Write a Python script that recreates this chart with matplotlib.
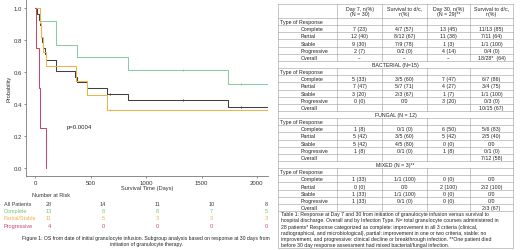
import matplotlib
matplotlib.use("Agg")
import matplotlib.pyplot as plt
import numpy as np

plt.rcParams['font.family'] = ['Liberation Sans', 'DejaVu Sans']

# Kaplan-Meier steps (days, survival after step)
all_t = [0, 15, 30, 40, 48, 55, 62, 70, 85, 92, 184, 190, 355, 372, 468, 645, 834, 1738, 2100]
all_s = [1.0, 0.964, 0.929, 0.893, 0.857, 0.821, 0.786, 0.75, 0.714, 0.679, 0.643, 0.607,
         0.571, 0.536, 0.5, 0.464, 0.425, 0.383, 0.383]
comp_t = [0, 42, 184, 372, 834, 1738, 2100]
comp_s = [1.0, 0.923, 0.769, 0.692, 0.615, 0.527, 0.527]
ps_t = [0, 42, 55, 70, 92, 365, 464, 645, 2100]
ps_s = [1.0, 0.909, 0.818, 0.727, 0.636, 0.545, 0.455, 0.364, 0.364]
prog_t = [0, 8, 35, 42, 94]
prog_s = [1.0, 0.75, 0.5, 0.25, 0.0]

# censor marks
all_cens_t = [675, 1331, 1855]
all_cens_s = [0.464, 0.425, 0.383]
comp_cens_t = [1331, 1855]
comp_cens_s = [0.615, 0.527]
ps_cens_t = [675]
ps_cens_s = [0.364]

p_text = "p=0.0004"

# number at risk
risk_times = [0, 500, 1000, 1500, 2000]
risk_groups = ["All Patients", "Complete", "Partial/Stable", "Progressive"]
risk_all = [28, 14, 11, 10, 8]
risk_comp = [13, 8, 8, 7, 5]
risk_ps = [11, 5, 3, 3, 3]
risk_prog = [4, 0, 0, 0, 0]

fig_caption = ("Figure 1: OS from date of initial granulocyte infusion. Subgroup analysis based on response at 30 days from\n"
               "initiation of granulocyte therapy.")

# table contents
tab_header = ["", "Day 7, n(%)\n(N = 30)", "Survival to d/c,\nn(%)", "Day 30, n(%)\n(N = 29)**", "Survival to d/c,\nn(%)"]
resp_types = ["Complete", "Partial", "Stable", "Progressive", "Overall"]
overall_vals = [["7 (23)", "4/7 (57)", "13 (45)", "11/13 (85)"],
                ["12 (40)", "8/12 (67)", "11 (38)", "7/11 (64)"],
                ["9 (30)", "7/9 (78)", "1 (3)", "1/1 (100)"],
                ["2 (7)", "0/2 (0)", "4 (14)", "0/4 (0)"],
                ["--", "--", "--", "18/28*  (64)"]]
bact_vals = [["5 (33)", "3/5 (60)", "7 (47)", "6/7 (86)"],
             ["7 (47)", "5/7 (71)", "4 (27)", "3/4 (75)"],
             ["3 (20)", "2/3 (67)", "1 (7)", "1/1 (100)"],
             ["0 (0)", "0/0", "3 (20)", "0/3 (0)"],
             ["", "", "", "10/15 (67)"]]
fung_vals = [["1 (8)", "0/1 (0)", "6 (50)", "5/6 (83)"],
             ["5 (42)", "3/5 (60)", "5 (42)", "2/5 (40)"],
             ["5 (42)", "4/5 (80)", "0 (0)", "0/0"],
             ["1 (8)", "0/1 (0)", "1 (8)", "0/1 (0)"],
             ["", "", "", "7/12 (58)"]]
mixed_vals = [["1 (33)", "1/1 (100)", "0 (0)", "0/0"],
              ["0 (0)", "0/0", "2 (100)", "2/2 (100)"],
              ["1 (33)", "1/1 (100)", "0 (0)", "0/0"],
              ["1 (33)", "0/1 (0)", "0 (0)", "0/0"],
              ["", "", "", "2/3 (67)"]]
sections = [(None, overall_vals), ("BACTERIAL (N=15)", bact_vals),
            ("FUNGAL (N = 12)", fung_vals), ("MIXED (N = 3)**", mixed_vals)]
tab_caption = ("Table 1: Response at Day 7 and 30 from initiation of granulocyte infusion versus survival to\n"
               "hospital discharge. Overall and by Infection Type. N= total granulocyte courses administered in\n"
               "28 patients* Response categorized as complete: improvement in all 3 criteria (clinical,\n"
               "radiographical, and microbiological), partial: improvement in one or two criteria, stable: no\n"
               "improvement, and progressive: clinical decline or breakthrough infection. **One patient died\n"
               "before 30 day response assessment had mixed bacterial/fungal infection.")

c_all = '#404040'
c_comp = '#8ccaa6'
c_ps = '#f0b24a'
c_prog = '#c8486a'
txt_comp = '#72c470'
W, H = 520, 251

fig = plt.figure(figsize=(5.2, 2.51), dpi=100)
fig.patch.set_facecolor('white')

# survival plot
ax = fig.add_axes([26 / W, 1 - 177 / H, 242 / W, 175.7 / H])
ax.step(all_t, all_s, where='post', color=c_all, lw=0.75)
ax.step(comp_t, comp_s, where='post', color=c_comp, lw=0.75)
ax.step(ps_t, ps_s, where='post', color=c_ps, lw=0.75)
ax.step(prog_t, prog_s, where='post', color=c_prog, lw=0.75)
ax.plot(all_cens_t, all_cens_s, '|', color=c_all, ms=2, mew=0.7)
ax.plot(comp_cens_t, comp_cens_s, '|', color=c_comp, ms=2, mew=0.7)
ax.plot(ps_cens_t, ps_cens_s, '|', color=c_ps, ms=2, mew=0.7)
ax.text(286, 0.26, p_text, fontsize=4.3, color='#222222', va='center')
ax.set_xlim(-84, 2100)
ax.set_ylim(-0.05, 1.05)
ax.set_xticks([0, 500, 1000, 1500, 2000])
ax.set_yticks([0.0, 0.2, 0.4, 0.6, 0.8, 1.0])
ax.set_yticklabels(["0.0", "0.2", "0.4", "0.6", "0.8", "1.0"])
ax.tick_params(labelsize=4.3, length=1.5, width=0.5, pad=1.2, colors='#666666', labelcolor='#333333')
for s in ['top', 'right']:
    ax.spines[s].set_visible(False)
for s in ['left', 'bottom']:
    ax.spines[s].set_color('#777777')
    ax.spines[s].set_linewidth(0.6)
ax.set_xlabel("Survival Time (Days)", fontsize=4.1, labelpad=0.3, color='#333333')
ax.set_ylabel("Probability", fontsize=4.1, labelpad=1.5, color='#333333')

# number at risk table
rx = fig.add_axes([0, 1 - 232 / H, 270 / W, 42 / H])
rx.set_xlim(-49 / 0.1085, (270 - 49) / 0.1085)
rx.set_ylim(232, 190)
rx.axis('off')
rfs = 3.95
rx.text((32 - 49) / 0.1085, 196, "Number at Risk", fontsize=rfs, color='#333333', va='center')
risk_rows = [risk_all, risk_comp, risk_ps, risk_prog]
risk_cols = [c_all, txt_comp, c_ps, c_prog]
for i, (lab, vals, col) in enumerate(zip(risk_groups, risk_rows, risk_cols)):
    y = 204.3 + 7.3 * i
    rx.text((4 - 49) / 0.1085, y, lab, fontsize=rfs, color=col, va='center')
    for t, v in zip(risk_times, vals):
        rx.text(t, y, str(v), fontsize=rfs, color=col, va='center', ha='center', clip_on=False)

# overlay axes in pixel units for captions and the table
ov = fig.add_axes([0, 0, 1, 1])
ov.set_xlim(0, W)
ov.set_ylim(H, 0)
ov.axis('off')
ov.text(146, 241.5, fig_caption, fontsize=3.7, color='#222222', ha='center', va='center',
        multialignment='center', linespacing=1.3)

cols = [278, 337, 382, 427, 470, 513]
top, head_bot, rh = 4.5, 19.0, 7.15
lc, lw = '#a8a8a8', 0.45
tc, fs = '#222222', 3.75

for j in range(1, 5):
    ov.text((cols[j] + cols[j + 1]) / 2, (top + head_bot) / 2, tab_header[j], fontsize=fs, color=tc,
            ha='center', va='center', linespacing=1.1)
ov.plot([cols[0], cols[-1]], [top, top], color=lc, lw=lw)
for xc in cols:
    ov.plot([xc, xc], [top, head_bot], color=lc, lw=lw)

y = head_bot
for title, vals in sections:
    if title is not None:
        ov.plot([cols[0], cols[-1]], [y, y], color=lc, lw=lw)
        ov.plot([cols[0], cols[0]], [y, y + rh], color=lc, lw=lw)
        ov.plot([cols[-1], cols[-1]], [y, y + rh], color=lc, lw=lw)
        ov.text((cols[0] + cols[-1]) / 2, y + rh / 2, title, fontsize=fs, color=tc, ha='center', va='center')
        y += rh
    rows = [("Type of Response", ["", "", "", ""], 280)]
    rows += [(r, v, 301) for r, v in zip(resp_types, vals)]
    for lab, v, xl in rows:
        ov.plot([cols[0], cols[-1]], [y, y], color=lc, lw=lw)
        for xc in cols:
            ov.plot([xc, xc], [y, y + rh], color=lc, lw=lw)
        ov.text(xl, y + rh / 2, lab, fontsize=fs, color=tc, ha='left', va='center')
        for j in range(4):
            ov.text((cols[j + 1] + cols[j + 2]) / 2, y + rh / 2, v[j], fontsize=fs, color=tc,
                    ha='center', va='center')
        y += rh

ov.plot([cols[0], cols[-1]], [y, y], color=lc, lw=lw)
bot = 248.5
ov.plot([cols[0], cols[0]], [y, bot], color=lc, lw=lw)
ov.plot([cols[-1], cols[-1]], [y, bot], color=lc, lw=lw)
ov.plot([cols[0], cols[-1]], [bot, bot], color=lc, lw=lw)
ov.text(281, (y + bot) / 2, tab_caption, fontsize=3.7, color=tc, ha='left', va='center', linespacing=1.3)

fig.savefig("out.png", dpi=100, facecolor='white')
